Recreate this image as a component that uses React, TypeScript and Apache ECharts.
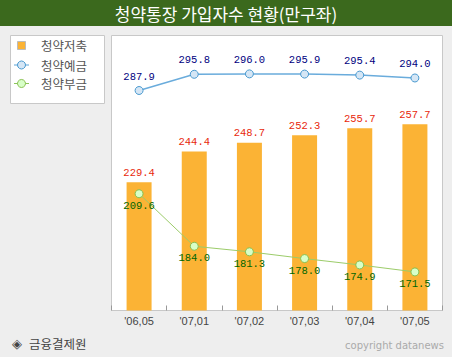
import React, { useEffect, useRef } from "react";
import * as echarts from "echarts";

const categories = ["'06,05", "'07,01", "'07,02", "'07,03", "'07,04", "'07,05"];
const savingsValues = [229.4, 244.4, 248.7, 252.3, 255.7, 257.7]; // 청약저축
const depositValues = [287.9, 295.8, 296.0, 295.9, 295.4, 294.0]; // 청약예금
const installmentValues = [209.6, 184.0, 181.3, 178.0, 174.9, 171.5]; // 청약부금
const seriesNames = ["청약저축", "청약예금", "청약부금"];

const MONO = "'Liberation Mono', 'DejaVu Sans Mono', monospace";
const KR = "'Noto Sans CJK KR', sans-serif";

export default function App() {
  const ref = useRef<HTMLDivElement>(null);
  useEffect(() => {
    document.body.style.margin = "0";
    if (!ref.current) return;
    const chart = echarts.init(ref.current, null, { renderer: "svg" });
    const fmt = (p: any) => Number(p.value).toFixed(1);
    const legendY = [45, 65, 83.5];
    chart.setOption({
      animation: false,
      backgroundColor: "#eeeeee",
      graphic: [
        { type: "rect", z: -10, shape: { x: 0, y: 0, width: 452, height: 26 }, style: { fill: "#3b691d" } },
        {
          type: "text", x: 226, y: 13,
          style: { text: "청약통장 가입자수 현황(만구좌)", fill: "#ffffff", font: `17px ${KR}`, align: "center", verticalAlign: "middle" },
        },
        { type: "rect", z: -10, shape: { x: 10.5, y: 35.5, width: 94, height: 68 }, style: { fill: "#ffffff", stroke: "#c8c8c8", lineWidth: 1 } },
        { type: "rect", z: -10, shape: { x: 111.5, y: 35.5, width: 331, height: 275 }, style: { fill: "#ffffff", stroke: "#c8c8c8", lineWidth: 1 } },
        // legend icons
        { type: "rect", shape: { x: 17.5, y: 41.5, width: 8, height: 8 }, style: { fill: "#fbb335", stroke: "#bbbbbb", lineWidth: 1 } },
        { type: "line", shape: { x1: 14, y1: legendY[1], x2: 29, y2: legendY[1] }, style: { stroke: "#5aa3d6", lineWidth: 1 } },
        { type: "circle", shape: { cx: 21.5, cy: legendY[1], r: 4 }, style: { fill: "#d5e6f5", stroke: "#4a9ad0", lineWidth: 1 } },
        { type: "line", shape: { x1: 14, y1: legendY[2], x2: 29, y2: legendY[2] }, style: { stroke: "#8cc45a", lineWidth: 1 } },
        { type: "circle", shape: { cx: 21.5, cy: legendY[2], r: 4 }, style: { fill: "#d8ffc8", stroke: "#88c050", lineWidth: 1 } },
        ...seriesNames.map((n, i) => ({
          type: "text", x: 41, y: legendY[i],
          style: { text: n, fill: "#555555", font: `12.5px ${KR}`, verticalAlign: "middle" },
        })),
        {
          type: "text", x: 12, y: 343,
          style: { text: "◈", fill: "#444444", font: `13px 'DejaVu Sans', sans-serif`, verticalAlign: "middle" },
        },
        {
          type: "text", x: 29, y: 343,
          style: { text: "금융결제원", fill: "#444444", font: `12.5px ${KR}`, verticalAlign: "middle" },
        },
        {
          type: "text", x: 444, y: 345,
          style: { text: "copyright datanews", fill: "#aaaaaa", font: "10px 'DejaVu Sans', sans-serif", align: "right", verticalAlign: "middle" },
        },
      ],
      grid: { left: 111.5, top: 35.5, width: 331, height: 275, containLabel: false },
      xAxis: {
        type: "category",
        data: categories,
        axisLine: { show: false },
        axisTick: { show: true, inside: true, length: 5, lineStyle: { color: "#999999" } },
        axisLabel: { color: "#444444", fontSize: 11, fontFamily: "'Liberation Sans', Arial, sans-serif", margin: 5 },
        splitLine: { show: false },
      },
      yAxis: [
        { type: "value", min: 166.9, max: 300.9, show: false, splitLine: { show: false } },
        { type: "value", min: 180.7, max: 314.7, show: false, splitLine: { show: false } },
        { type: "value", min: 152.7, max: 286.7, show: false, splitLine: { show: false } },
      ],
      series: [
        {
          name: seriesNames[0], type: "bar", yAxisIndex: 0, data: savingsValues, barWidth: 25,
          itemStyle: { color: "#fbb335" },
          label: { show: true, position: "top", distance: 4, color: "#e8280c", fontFamily: MONO, fontSize: 10.5, formatter: fmt },
          z: 1,
        },
        {
          name: seriesNames[1], type: "line", yAxisIndex: 1, data: depositValues,
          symbol: "circle", symbolSize: 8,
          lineStyle: { color: "#6aacdc", width: 1.5 },
          itemStyle: { color: "#d5e6f5", borderColor: "#4a9ad0", borderWidth: 1 },
          label: { show: true, position: "top", distance: 4, color: "#000080", fontFamily: MONO, fontSize: 10.5, formatter: fmt },
          z: 3,
        },
        {
          name: seriesNames[2], type: "line", yAxisIndex: 2, data: installmentValues,
          symbol: "circle", symbolSize: 8,
          lineStyle: { color: "#9ccc6a", width: 1 },
          itemStyle: { color: "#d8ffc8", borderColor: "#88c050", borderWidth: 1 },
          label: { show: true, position: "bottom", distance: 2, color: "#006600", fontFamily: MONO, fontSize: 10.5, formatter: fmt },
          z: 3,
        },
      ],
    });
    return () => chart.dispose();
  }, []);
  return <div ref={ref} style={{ width: 452, height: 357 }} />;
}
